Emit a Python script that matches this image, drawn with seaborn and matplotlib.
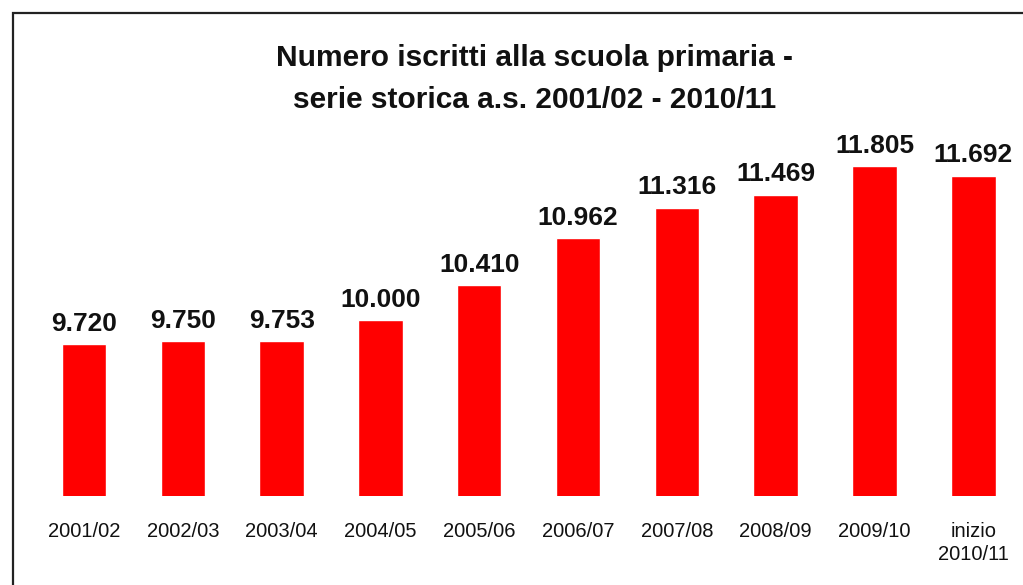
import matplotlib
matplotlib.use("Agg")
import matplotlib.pyplot as plt
import seaborn as sns
import pandas as pd
from matplotlib.patches import Rectangle

categories = ["2001/02", "2002/03", "2003/04", "2004/05", "2005/06",
              "2006/07", "2007/08", "2008/09", "2009/10", "inizio\n2010/11"]
values = [9720, 9750, 9753, 10000, 10410, 10962, 11316, 11469, 11805, 11692]
value_labels = ["9.720", "9.750", "9.753", "10.000", "10.410",
                "10.962", "11.316", "11.469", "11.805", "11.692"]
title = "Numero iscritti alla scuola primaria -\nserie storica a.s. 2001/02 - 2010/11"

sns.set_theme(style="white")
plt.rcParams['font.family'] = ['Liberation Sans', 'DejaVu Sans']

W, H = 1023, 585
fig = plt.figure(figsize=(W / 100, H / 100), dpi=100)
fig.patch.set_facecolor("white")

# axes in pixel coordinates
left_px, right_px = 34.6, 1022.7
bottom_px, top_px = 496, 140
ax = fig.add_axes([left_px / W, (H - bottom_px) / H,
                   (right_px - left_px) / W, (bottom_px - top_px) / H])

df = pd.DataFrame({"cat": categories, "val": values})
sns.barplot(data=df, x="cat", y="val", color="#ff0000", saturation=1,
            width=0.45, ax=ax)

ax.set_ylim(7940, 12110)
ax.set_xlim(-0.5, len(categories) - 0.5)
for s in ax.spines.values():
    s.set_visible(False)
ax.set_yticks([])
ax.set_xlabel("")
ax.set_ylabel("")
ax.tick_params(axis="x", length=0, pad=19, labelsize=14.5)
for lbl in ax.get_xticklabels():
    lbl.set_linespacing(1.25)
    lbl.set_color("#111111")

for i, (v, t) in enumerate(zip(values, value_labels)):
    ax.annotate(t, (i, v), xytext=(0, 6), textcoords="offset points",
                ha="center", va="bottom", fontsize=19, fontweight="bold",
                color="#111111")

fig.text(535 / W, 1 - 79 / H, title, ha="center", va="center",
         fontsize=21.5, fontweight="bold", linespacing=1.6, color="#111111")

frame = Rectangle((13 / W, -0.1), 1.2, 1 - 13 / H + 0.1,
                  transform=fig.transFigure, fill=False,
                  edgecolor="#222222", linewidth=1.6)
fig.patches.append(frame)

fig.savefig("out.png", dpi=100)
